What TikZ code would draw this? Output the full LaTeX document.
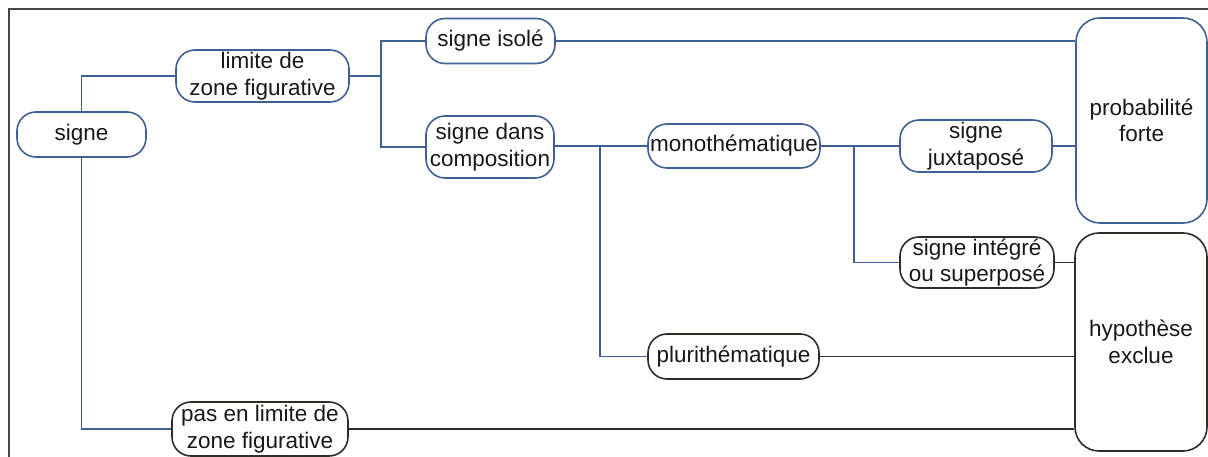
\documentclass[tikz,border=0pt]{standalone}
\usepackage{fontspec}
\setmainfont{Liberation Sans}
\definecolor{linkblue}{RGB}{62,96,148}
\definecolor{linkdark}{RGB}{48,44,40}
\definecolor{frameg}{RGB}{70,70,70}
\definecolor{txt}{RGB}{25,25,25}
\tikzset{
  box/.style={draw=linkblue, line width=1.6pt, fill=white, rounded corners=19pt,
    inner sep=0pt, align=center, text=txt,
    font=\fontsize{22.5}{26.5}\selectfont},
  darkbox/.style={box, draw=linkdark},
  bigbox/.style={box, rounded corners=24pt},
  link/.style={draw=linkblue, line width=1.6pt},
  darklink/.style={draw=linkdark, line width=1.6pt},
}
\begin{document}
\begin{tikzpicture}[x=1pt,y=-1pt]
\clip (0,0) rectangle (1208,457);
\fill[white] (0,0) rectangle (1208,457);
\draw[frameg, line width=1.2pt] (9,9) rectangle (1230,480);

% nodes
\node[box, minimum width=129pt, minimum height=45pt] (signe) at (81.5,134.5) {signe};
\node[box, minimum width=173pt, minimum height=52pt] (limite) at (262.5,76) {\raisebox{-2pt}{limite de}\\\raisebox{-2pt}{zone figurative}};
\node[box, minimum width=129pt, minimum height=45pt] (isole) at (490.5,41) {signe isolé};
\node[box, minimum width=128pt, minimum height=62pt] (comp) at (490,147) {signe dans\\composition};
\node[box, minimum width=172pt, minimum height=44pt] (mono) at (734,146) {monothématique};
\node[box, minimum width=152pt, minimum height=52pt] (juxt) at (976,146) {\raisebox{-2pt}{signe}\\\raisebox{-2pt}{juxtaposé}};
\node[darkbox, minimum width=154pt, minimum height=51pt] (integ) at (977,262.5) {signe intégré\\ou superposé};
\node[darkbox, minimum width=171pt, minimum height=45pt] (pluri) at (733.5,356.5) {plurithématique};
\node[darkbox, minimum width=176pt, minimum height=54pt] (pas) at (260,429) {pas en limite de\\zone figurative};
\node[bigbox, minimum width=131pt, minimum height=205pt] (prob) at (1141.5,120.5) {probabilité\\forte};
\node[bigbox, draw=linkdark, minimum width=132pt, minimum height=218pt] (hyp) at (1141,342) {hypothèse\\exclue};

% branch points
\coordinate (j1) at (381,76);
\coordinate (j2) at (600,146);
\coordinate (j3) at (854,146);

% connectors
\path[link] (signe.north) |- (limite.west);
\path[link] (signe.south) |- (pas.west);
\path[link] (limite.east) -- (j1);
\path[link] (j1) |- (isole.west);
\path[link] (j1) |- (comp.west);
\path[link] (isole.east) -- (isole.east -| prob.west);
\path[link] (comp.east |- mono.west) -- (mono.west);
\path[link] (j2) |- (pluri.west);
\path[link] (mono.east) -- (juxt.west);
\path[link] (j3) |- (integ.west);
\path[link] (juxt.east) -- (juxt.east -| prob.west);
\path[darklink] (integ.east) -- (integ.east -| hyp.west);
\path[darklink] (pluri.east) -- (pluri.east -| hyp.west);
\path[darklink] (pas.east) -- (pas.east -| hyp.west);
\end{tikzpicture}
\end{document}
